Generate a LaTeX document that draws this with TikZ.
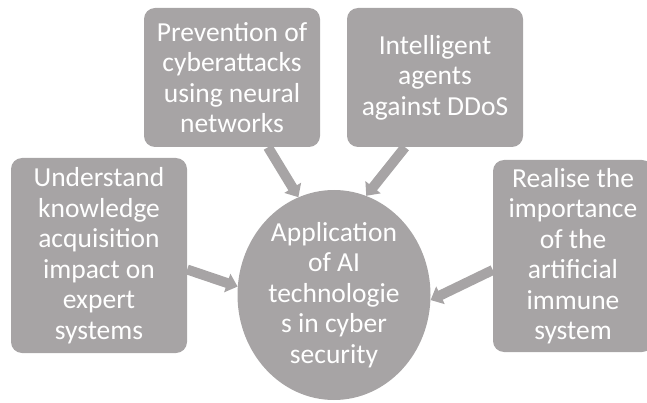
\documentclass[tikz,border=0pt]{standalone}
\usepackage{fontspec}
\setmainfont{Carlito}
\usepackage{xcolor}
\definecolor{cBox}{HTML}{A7A4A5}
\usetikzlibrary{arrows.meta,shapes.geometric}
\tikzset{
  node-topic/.style={fill=cBox,draw=none,rounded corners=11pt,
    text=white,align=center,inner sep=0pt,
    font=\fontsize{27.5}{30.5}\selectfont},
  node-hub/.style={fill=cBox,draw=none,ellipse,inner sep=0pt,
    text=white,align=center,font=\fontsize{27.5}{30.5}\selectfont},
  arrow/.style={-{Triangle[width=19pt,length=11pt]},line width=10pt,draw=cBox},
}

\begin{document}
\begin{tikzpicture}[x=1pt,y=1pt]
  \useasboundingbox (0,0) rectangle (647,402);
  \node[node-hub,minimum width=193pt,minimum height=210pt] (app) at (334,107)
    {Application\\of AI\\technologie\\s in cyber\\security};
  \node[node-topic,minimum width=176pt,minimum height=195pt] (und) at (99,146.5)
    {Understand\\knowledge\\acquisition\\impact on\\expert\\systems};
  \node[node-topic,minimum width=176pt,minimum height=139pt] (prev) at (232,324.5)
    {Prevention of\\cyberattacks\\using neural\\networks};
  \node[node-topic,minimum width=176pt,minimum height=139pt] (intel) at (435,324.5)
    {Intelligent\\agents\\against DDoS};
  \node[node-topic,minimum width=160pt,minimum height=192pt] (real) at (573,146)
    {Realise the\\importance\\of the\\artificial\\immune\\system};
  % arrows into the hub
  \draw[arrow] ([xshift=36pt]prev.south) -- (app.110);
  \draw[arrow] ([xshift=-30pt]intel.south) -- (app.72);
  \draw[arrow] ([yshift=-14pt]und.east) -- (app.175);
  \draw[arrow] ([yshift=-14pt]real.west) -- (app.-3);
\end{tikzpicture}
\end{document}
